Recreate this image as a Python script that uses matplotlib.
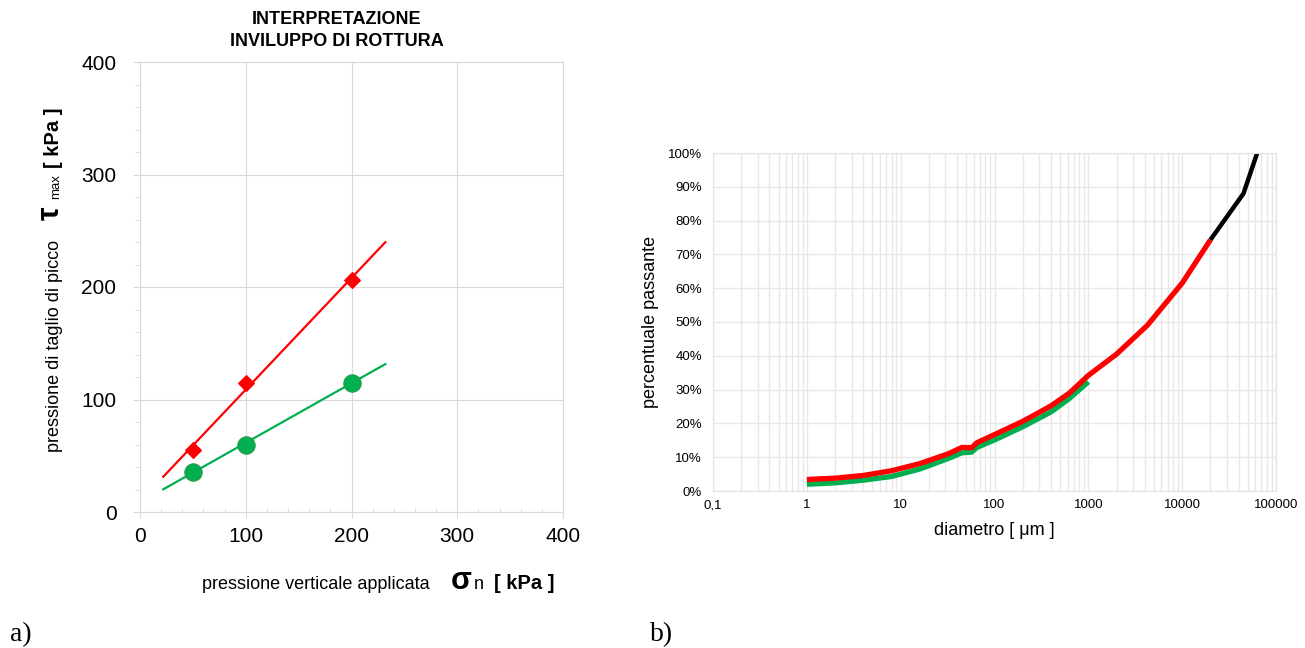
import numpy as np
import matplotlib
matplotlib.use('Agg')
import matplotlib.pyplot as plt
from matplotlib.ticker import FixedLocator, FuncFormatter, NullFormatter

plt.rcParams['font.family'] = ['Liberation Sans', 'DejaVu Sans']

# --- a) shear test: failure envelope ---
sigma_n = [50, 100, 200]          # kPa
tau_peak_red = [55, 115, 206]     # kPa
tau_peak_green = [36, 60, 115]    # kPa
trend_range = [22, 232]           # kPa, extent of the linear trend lines

# --- b) grain size distribution ---
diam_red = [1, 2, 4, 8, 16, 32, 45, 57, 65, 100, 200, 400, 630, 1000, 2000, 4250, 10000, 20000]
pass_red = [3.4, 3.8, 4.6, 6.0, 8.1, 11.0, 12.9, 12.8, 14.3, 16.7, 20.6, 25.2, 29.0, 34.2, 40.5, 49.0, 61.5, 74.3]
diam_green = [1, 2, 4, 8, 16, 32, 45, 57, 65, 100, 200, 400, 630, 1000]
pass_green = [2.0, 2.4, 3.2, 4.3, 6.5, 9.6, 11.3, 11.5, 12.9, 15.1, 19.0, 23.4, 27.4, 32.3]
diam_black = [20000, 45000, 63000]
pass_black = [74.3, 88.0, 100.0]

W, H = 1305, 648
fig = plt.figure(figsize=(W / 100, H / 100), dpi=100)


def fx(x):
    return x / W


def fy(y):
    return 1 - y / H


# ---------------- left chart ----------------
ax1 = fig.add_axes([fx(140), fy(512), (563 - 140) / W, (512 - 62) / H])
ax1.set_xlim(0, 400)
ax1.set_ylim(0, 400)
ax1.set_xticks([0, 100, 200, 300, 400])
ax1.set_yticks([0, 100, 200, 300, 400])
ax1.xaxis.set_minor_locator(FixedLocator(np.arange(0, 401, 20)))
ax1.yaxis.set_minor_locator(FixedLocator(np.arange(0, 401, 20)))
ax1.grid(True, which='major', color='#d9d9d9', lw=0.8)
for s in ax1.spines.values():
    s.set_color('#d9d9d9')
    s.set_linewidth(0.8)
ax1.tick_params(axis='y', which='major', length=5, color='#d9d9d9', labelsize=15, pad=12)
ax1.tick_params(axis='y', which='minor', length=3.5, color='#d9d9d9')
ax1.tick_params(axis='x', which='major', length=4, color='#d9d9d9', labelsize=15, pad=7)
ax1.tick_params(axis='x', which='minor', length=3, direction='in', color='#d9d9d9')
ax1.set_axisbelow(True)

xs = np.array(trend_range, dtype=float)
for tau, col, mk, ms, ec in [(tau_peak_red, '#ff0000', 'D', 8.5, '#ff0000'),
                             (tau_peak_green, '#00b050', 'o', 12.5, '#2e9a4e')]:
    k, c = np.polyfit(sigma_n, tau, 1)
    ax1.plot(xs, k * xs + c, color=col, lw=1.6, zorder=2)
    ax1.plot(sigma_n, tau, ls='none', marker=mk, ms=ms, color=col,
             mec=ec, mew=0.8, zorder=3)

fig.text(fx(337), fy(19), 'INTERPRETAZIONE', ha='center', va='center',
         fontsize=13, fontweight='bold')
fig.text(fx(337), fy(41), 'INVILUPPO DI ROTTURA', ha='center', va='center',
         fontsize=13, fontweight='bold')

# x label pieces
base = fy(589)
fig.text(fx(202), base, 'pressione verticale applicata', ha='left', va='baseline', fontsize=13)
fig.text(fx(451), base, 'σ', ha='left', va='baseline', fontsize=22, fontweight='bold')
fig.text(fx(474), base, 'n', ha='left', va='baseline', fontsize=13)
fig.text(fx(494), base, '[ kPa ]', ha='left', va='baseline', fontsize=14.5, fontweight='bold')

# y label pieces (rotated)
bx = fx(59)
kw = dict(rotation=90, rotation_mode='anchor', ha='left', va='baseline')
fig.text(bx, fy(452), 'pressione di taglio di picco', fontsize=13, **kw)
fig.text(bx, fy(220), 'τ', fontsize=22, fontweight='bold', **kw)
fig.text(bx, fy(199), 'max', fontsize=9.5, **kw)
fig.text(bx, fy(168), '[ kPa ]', fontsize=14.5, fontweight='bold', **kw)

# ---------------- right chart ----------------
ax2 = fig.add_axes([fx(713), fy(491), (1276 - 713) / W, (491 - 153) / H])
ax2.set_xscale('log')
ax2.set_xlim(0.1, 100000)
ax2.set_ylim(0, 1)
decades = [0.1, 1, 10, 100, 1000, 10000, 100000]
ax2.xaxis.set_major_locator(FixedLocator(decades))
minors = [m * d for d in decades[:-1] for m in range(2, 10)]
ax2.xaxis.set_minor_locator(FixedLocator(minors))
ax2.xaxis.set_minor_formatter(NullFormatter())
ax2.xaxis.set_major_formatter(FuncFormatter(lambda v, p: ('%g' % v).replace('.', ',')))
ax2.set_yticks(np.arange(0, 1.01, 0.1))
ax2.yaxis.set_major_formatter(FuncFormatter(lambda v, p: '%d%%' % round(v * 100)))
ax2.grid(True, which='both', color='#e8e8e8', lw=1.0)
for s in ax2.spines.values():
    s.set_color('#e3e3e3')
ax2.tick_params(which='both', length=0)
ax2.tick_params(axis='x', labelsize=9.5, pad=6)
ax2.tick_params(axis='y', labelsize=9.5, pad=8)
ax2.set_axisbelow(True)

ax2.plot(diam_black, np.array(pass_black) / 100, color='black', lw=3.2,
         solid_capstyle='butt', zorder=2)
ax2.plot(diam_green, np.array(pass_green) / 100, color='#00b050', lw=3.8,
         solid_capstyle='butt', zorder=3)
ax2.plot(diam_red, np.array(pass_red) / 100, color='#ff0000', lw=3.8,
         solid_capstyle='butt', zorder=4)

ax2.set_xlabel('diametro [ μm ]', fontsize=13, labelpad=8)
ax2.set_ylabel('percentuale passante', fontsize=13, labelpad=6)

# panel letters
fig.text(fx(10), fy(641), 'a)', fontsize=20, family='Liberation Serif', va='baseline')
fig.text(fx(650), fy(641), 'b)', fontsize=20, family='Liberation Serif', va='baseline')

fig.savefig('out.png', dpi=100)
